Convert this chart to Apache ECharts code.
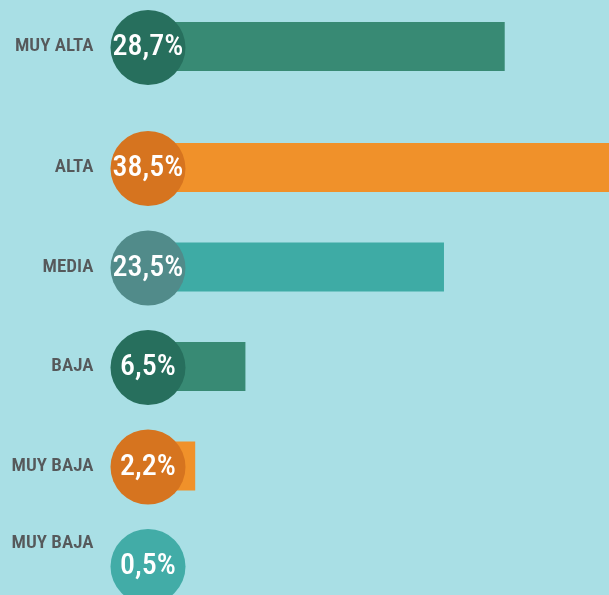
<!DOCTYPE html>
<html>
<head>
<meta charset="utf-8">
<script src="https://cdn.jsdelivr.net/npm/echarts@6/dist/echarts.min.js"></script>
<style>
html,body{margin:0;padding:0;background:#a9dfe5;}
#c{width:609px;height:595px;}
</style>
</head>
<body>
<div id="c"></div>
<script>
// ---- data ----
var categories = ['MUY ALTA', 'ALTA', 'MEDIA', 'BAJA', 'MUY BAJA', 'MUY BAJA'];
var values = [28.7, 38.5, 23.5, 6.5, 2.2, 0.5];
var valueLabels = ['28,7%', '38,5%', '23,5%', '6,5%', '2,2%', '0,5%'];

// ---- styles ----
var barColors = ['#388a74', '#f0912a', '#3eaba5', '#388a74', '#f0912a', '#3eaba5'];
var circleColors = ['#276f5d', '#d6741f', '#518b8a', '#276f5d', '#d6741f', '#42aca7'];
var FONT = "'Roboto', 'Open Sans', sans-serif";

function makeItems(from, to) {
  var out = [];
  for (var i = from; i < to; i++) {
    out.push({
      value: values[i],
      itemStyle: { color: barColors[i] },
      label: { backgroundColor: circleColors[i], formatter: valueLabels[i] }
    });
  }
  return out;
}

var labelStyle = {
  show: true,
  position: 'insideLeft',
  distance: 0,
  offset: [-21.5, 1],
  align: 'center',
  verticalAlign: 'middle',
  width: 75,
  height: 75,
  lineHeight: 75,
  borderRadius: 37.5,
  color: '#ffffff',
  fontFamily: FONT,
  fontWeight: '500 condensed',
  fontSize: 30
};
var rich = {
  t: { fontWeight: '600 condensed', fontFamily: FONT, fontSize: 19, color: '#56595b', lineHeight: 20 },
  gap: { fontSize: 1, lineHeight: 44 }
};
function axisLabelStyle(offset) {
  return {
    color: '#56595b',
    fontSize: 19,
    margin: 76,
    formatter: function (v, idx) {
      var s = '{t|' + v + '}';
      if (idx + offset === categories.length - 1) s += '\n{gap| }';
      return s;
    },
    rich: rich
  };
}

var chart = echarts.init(document.getElementById('c'));
chart.setOption({
  backgroundColor: '#a9dfe5',
  animation: false,
  grid: [
    { left: 169.5, top: 0, width: 467.2, height: 93, outerBoundsMode: 'none' },
    { left: 169.5, top: 117.75, width: 467.2, height: 497.5, outerBoundsMode: 'none' }
  ],
  xAxis: [
    { gridIndex: 0, type: 'value', min: 0, max: 40, show: false },
    { gridIndex: 1, type: 'value', min: 0, max: 40, show: false }
  ],
  yAxis: [
    { gridIndex: 0, type: 'category', inverse: true, data: categories.slice(0, 1),
      axisLine: { show: false }, axisTick: { show: false }, axisLabel: axisLabelStyle(0) },
    { gridIndex: 1, type: 'category', inverse: true, data: categories.slice(1, 6),
      axisLine: { show: false }, axisTick: { show: false }, axisLabel: axisLabelStyle(1) }
  ],
  series: [
    { type: 'bar', xAxisIndex: 0, yAxisIndex: 0, barWidth: 49, data: makeItems(0, 1), label: labelStyle },
    { type: 'bar', xAxisIndex: 1, yAxisIndex: 1, barWidth: 49, data: makeItems(1, 6), label: labelStyle }
  ]
});
</script>
</body>
</html>
